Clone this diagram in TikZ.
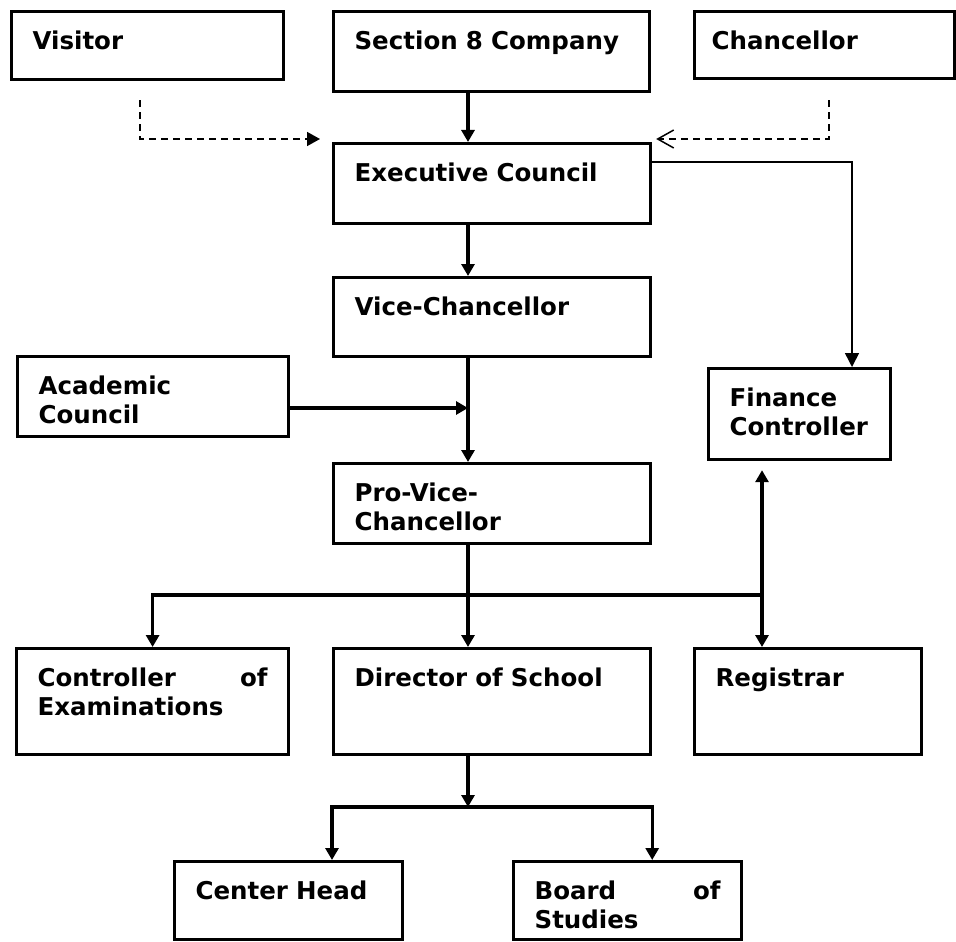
\documentclass[tikz,border=0pt]{standalone}
\usepackage{fontspec}
\setmainfont{DejaVu Sans}
\usetikzlibrary{arrows.meta}
\newcommand\unitfont{\fontsize{12.25}{14.5}\selectfont\bfseries}
\tikzset{
  unit/.style={draw, line width=1.6pt, anchor=north west, align=left, inner xsep=10.5pt, inner ysep=0pt, text height=19pt, font=\unitfont},
  link/.style={-{Triangle[length=6pt,width=6.5pt]}, line width=1.6pt},
  thinlink/.style={-{Triangle[length=7pt,width=7pt]}, line width=0.8pt},
  dashlink/.style={dash pattern=on 3.5pt off 2.5pt, line width=0.75pt}
}
\begin{document}
\begin{tikzpicture}[x=0.5pt, y=-0.5pt]
\useasboundingbox (0,0) rectangle (956,941);
\node[unit, text width=115pt, text depth=15pt] (visitor) at (10,10) {Visitor};
\node[unit, text width=137pt, text depth=21pt] (sec8) at (332,10) {Section 8 Company};
\node[unit, inner xsep=8.5pt, text width=113pt, text depth=14.5pt] (chanc) at (693,10) {Chancellor};
\node[unit, text width=137.5pt, text depth=21pt] (exec) at (332,142) {Executive Council};
\node[unit, text width=137.5pt, text depth=20.5pt] (vc) at (332,276) {Vice-Chancellor};
\node[unit, text width=114.5pt, text depth=21pt] (acad) at (16,355) {Academic\\Council};
\node[unit, text width=70pt, text depth=26.5pt] (fin) at (707,367) {Finance\\Controller};
\node[unit, text width=137.5pt, text depth=21pt] (pvc) at (332,462) {Pro-Vice-\\Chancellor};
\node[unit, text width=115pt, text depth=34pt] (coe) at (15,647) {Controller\hfill of\\Examinations};
\node[unit, text width=137.5pt, text depth=34pt] (dos) at (332,647) {Director of School};
\node[unit, text width=92.5pt, text depth=34pt] (reg) at (693,647) {Registrar};
\node[unit, text width=93pt, text depth=20pt] (ch) at (173,860) {Center Head};
\node[unit, text width=93pt, text depth=20pt] (bos) at (512,860) {Board\hfill of\\Studies};

\coordinate (col) at (468,0);
\coordinate (acadin) at (468,408);
\coordinate (split) at (762,595);
\coordinate (fork) at (468,807);
\coordinate (fintap) at (852,162);
\coordinate (vtap) at ([yshift=-9.5pt]visitor.south -| 140,0);
\coordinate (ctap) at ([yshift=-10pt]chanc.south -| 829,0);

\draw[link] (sec8.south -| col) -- (exec.north -| col);
\draw[link] (exec.south -| col) -- (vc.north -| col);
\draw[link] (vc.south -| col) -- (pvc.north -| col);
\draw[link] (acad.east |- acadin) -- (acadin);
\draw[link] (pvc.south -| col) -- (dos.north -| col);
\draw[link] (split) -| (coe.north);
\draw[link, {Triangle[length=6pt,width=6.5pt]}-{Triangle[length=6pt,width=6.5pt]}] ([yshift=-4.5pt]fin.south -| split) -- (reg.north -| split);
\draw[thinlink] (exec.east |- fintap) -| (fin.north -| fintap);
\draw[link] (dos.south -| col) -- (fork);
\draw[link] (fork) -| (ch.north -| dos.west);
\draw[link] (fork) -| (bos.north -| dos.east);
\draw[dashlink, -{Triangle[length=6.5pt,width=7pt]}] (vtap) |- ([xshift=-6pt,yshift=1.5pt]exec.north west);
\draw[dashlink, -{Straight Barb[length=8pt,width=9pt]}] (ctap) |- ([xshift=2pt,yshift=1.5pt]exec.north east);
\end{tikzpicture}
\end{document}
